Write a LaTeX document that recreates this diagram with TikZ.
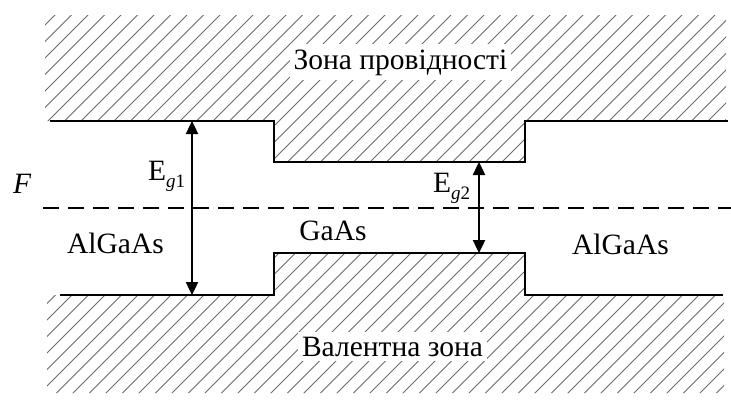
\documentclass[tikz,border=0pt]{standalone}
\usepackage{fontspec}
\setmainfont{Liberation Serif}
\usetikzlibrary{arrows.meta}

\begin{document}
\begin{tikzpicture}[x=1pt,y=-1pt,
  band/.style={line width=2.6pt, line join=miter},
  hatch/.style={draw=black!58, line width=0.9pt},
  fermi/.style={line width=2.6pt, dash pattern=on 16pt off 9pt},
  gap/.style={line width=2.4pt, {Triangle[length=13pt,width=12pt]}-{Triangle[length=13pt,width=12pt]}},
  lbl/.style={font=\fontsize{29.5}{34}\selectfont, inner sep=0pt, anchor=base},
  zone/.style={lbl, fill=white, inner xsep=4pt, inner ysep=5pt}
]
\useasboundingbox (0,0) rectangle (731,399);

% conduction band (hatched)
\begin{scope}
  \clip (45,15) -- (726,15) -- (726,121) -- (525,121) -- (525,162)
        -- (274,162) -- (274,121) -- (45,121) -- cycle;
  \foreach \c in {-363,-346.5,...,800} \draw[hatch] (\c,400) -- (\c+400,0);
\end{scope}

% valence band (hatched)
\begin{scope}
  \clip (47,295) -- (274,295) -- (274,253) -- (525,253) -- (525,295)
        -- (724,295) -- (724,393) -- (47,393) -- cycle;
  \foreach \c in {-594,-577.5,...,800} \draw[hatch] (\c,400) -- (\c+400,0);
\end{scope}

% band edges
\draw[band] (50,121) -- (274,121) -- (274,162) -- (525,162) -- (525,121) -- (728,121);
\draw[band] (60,295) -- (274,295) -- (274,253) -- (525,253) -- (525,295) -- (723,295);

% Fermi level
\coordinate (fl) at (43,208);
\coordinate (fr) at (731,208);
\draw[fermi] (fl) -- (fr);

% band gaps
\coordinate (c1) at (192,121);
\coordinate (v1) at (192,295);
\coordinate (c2) at (479,162);
\coordinate (v2) at (479,253);
\draw[gap] (c1) -- (v1);
\draw[gap] (c2) -- (v2);

% labels
\node[zone] (cb) at (400.5,69) {Зона провідності};
\node[zone] (vb) at (392.5,356) {Валентна зона};
\node[lbl] (l1) at (115.5,253) {AlGaAs};
\node[lbl] (l2) at (333,240) {GaAs};
\node[lbl] (l3) at (620.5,254) {AlGaAs};
\node[lbl, anchor=base west] (f) at (13,193) {\textit{F}};
\node[lbl, anchor=base west] (e1) at (148,180) {E\raisebox{-7pt}{\fontsize{19}{19}\selectfont\textit{g}1}};
\node[lbl, anchor=base west] (e2) at (433,192) {E\raisebox{-7pt}{\fontsize{19}{19}\selectfont\textit{g}2}};
\end{tikzpicture}
\end{document}
